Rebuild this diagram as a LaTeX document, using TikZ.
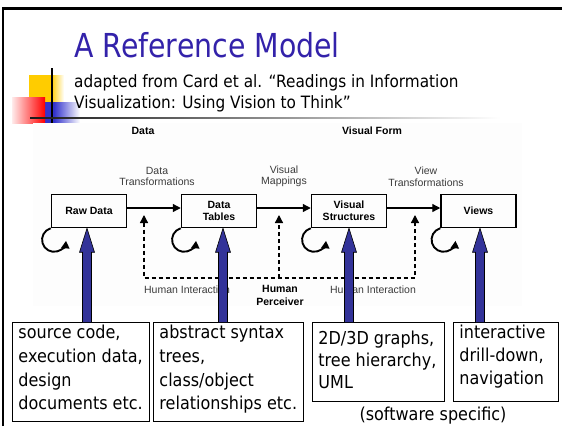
\documentclass[tikz,border=0pt]{standalone}
\usepackage{fontspec}
\setmainfont{Liberation Sans}
\newfontfamily\tahoma{DejaVu Sans}[FakeStretch=0.9]
\newfontfamily\tahomatitle{DejaVu Sans}[FakeStretch=0.86]
\usetikzlibrary{arrows.meta,calc}
\definecolor{titlec}{RGB}{51,34,170}
\definecolor{navyc}{RGB}{51,51,153}
\definecolor{yellowc}{RGB}{255,204,0}
\definecolor{redc}{RGB}{255,0,0}
\definecolor{bluec}{RGB}{51,51,204}
\definecolor{labelc}{RGB}{60,60,60}
\definecolor{panelc}{RGB}{253,253,253}
\newcommand\uparr[2]{\draw[bluearr] let \p1=(#1), \p2=(#2) in
  (\x1-4.5pt,\y1) -- (\x1-4.5pt,\y2-24pt) -- (\x1-7.5pt,\y2-24pt) -- (\x1,\y2)
  -- (\x1+7.5pt,\y2-24pt) -- (\x1+4.5pt,\y2-24pt) -- (\x1+4.5pt,\y1);}
\newcommand\tbtext[5]{\parbox[t][#1][t]{#2}{\leftskip=6pt\baselineskip=#4\rule{0pt}{#3}#5}}
\begin{document}
\begin{tikzpicture}[x=1pt,y=-1pt,
  stage/.style={draw, line width=1.5pt, minimum width=75pt, minimum height=33pt,
    inner sep=1pt, align=center, font=\fontsize{10.5}{12.3}\selectfont\bfseries},
  flow/.style={line width=1.3pt, -{Triangle[length=8pt,width=8pt]}},
  dashline/.style={line width=1.3pt, dash pattern=on 4pt off 3pt},
  loopar/.style={line width=1.9pt, -{Triangle[length=7.5pt,width=8pt]}},
  lbl/.style={inner sep=0pt, align=center, text=labelc, font=\fontsize{10.5}{11.5}\selectfont},
  head/.style={inner sep=0pt, align=center, font=\fontsize{10.5}{13}\selectfont\bfseries},
  tbox/.style={draw, line width=0.9pt, anchor=north west, inner sep=0pt,
    font=\tahoma\fontsize{17.8}{23.5}\selectfont},
  bluearr/.style={fill=navyc, draw=black, line width=0.6pt, line join=miter}
]
\useasboundingbox (0,0) rectangle (562,426);
% frame
\draw[line width=2.4pt] (3,426) -- (3,8.5) -- (562,8.5);
% logo decoration
\fill[yellowc] (29,75) rectangle (51,112);
\shade[left color=yellowc, right color=white] (51,75) rectangle (64,112);
\fill[bluec] (37,102) rectangle (54,124);
\shade[left color=bluec, right color=white] (54,102) rectangle (80,124);
\shade[left color=red!8, right color=redc] (12,97) rectangle (45,123);
\draw[line width=1.5pt] (52,68) -- (52,125);
\shade[left color=black!90, middle color=black!45, right color=white] (30,117.2) rectangle (500,118.8);
% title
\node[anchor=base west, inner sep=0pt, font=\tahomatitle\fontsize{33}{40}\selectfont, text=titlec] (title) at (74,57) {A Reference Model};
\node[anchor=base west, inner sep=0pt, font=\tahoma\fontsize{17}{20}\selectfont] (sub1) at (74,87.5) {adapted from Card et al. “Readings in Information};
\node[anchor=base west, inner sep=0pt, font=\tahoma\fontsize{17}{20}\selectfont] (sub2) at (74,108) {Visualization: Using Vision to Think”};
% diagram panel
\fill[panelc] (33,123) rectangle (522,306);
\node[head] (hdata) at (143,131) {Data};
\node[head] (hvis) at (372,131) {Visual Form};
% stages
\node[stage] (raw) at (89,211) {Raw Data};
\node[stage] (tables) at (219,211) {Data\\Tables};
\node[stage] (visual) at (349,211) {Visual\\Structures};
\node[stage] (views) at (478.5,211) {Views};
\draw[flow] ([yshift=3pt]raw.east) -- ([yshift=3pt]tables.west);
\draw[flow] ([yshift=3pt]tables.east) -- ([yshift=3pt]visual.west);
\draw[flow] ([yshift=3pt]visual.east) -- ([yshift=3pt]views.west);
\node[lbl] (l1) at (157,176.5) {Data\\Transformations};
\node[lbl] (l2) at (284,176.5) {Visual\\Mappings};
\node[lbl] (l3) at (426,176.5) {View\\Transformations};
% self loops
\foreach \b in {raw,tables,visual,views}
  \draw[loopar] ([xshift=0pt]\b.south west) arc[start angle=254, end angle=5, radius=12];
% human interaction
\coordinate (h1) at (144,278);
\coordinate (h2) at (279,278);
\coordinate (h3) at (415,278);
\coordinate (u1) at (144,215);
\coordinate (u2) at (279,215);
\coordinate (u3) at (415,215);
\draw[dashline, {Triangle[length=8pt,width=8pt]}-{Triangle[length=8pt,width=8pt]}] (u1) -- (h1) -- (h3) -- (u3);
\draw[dashline, -{Triangle[length=8pt,width=8pt]}] (h2) -- (u2);
\node[lbl] (hi1) at (187,289.5) {Human Interaction};
\node[lbl] (hi2) at (373,289.5) {Human Interaction};
\node[head, font=\fontsize{10.5}{13}\selectfont\bfseries] (perc) at (280,295.5) {Human\\Perceiver};
% text boxes
\node[tbox] (tb1) at (12,322) {\tbtext{99pt}{137pt}{16pt}{23.8pt}{source code,\\execution data,\\design\\documents etc.}};
\node[tbox] (tb2) at (153,322) {\tbtext{99pt}{150pt}{16pt}{23.8pt}{abstract syntax\\trees,\\class/object\\relationships etc.}};
\node[tbox] (tb3) at (312,322) {\tbtext{79pt}{132pt}{22.5pt}{22pt}{2D/3D graphs,\\tree hierarchy,\\UML}};
\node[tbox] (tb4) at (453,322) {\tbtext{79pt}{105pt}{16pt}{23pt}{interactive\\drill-down,\\navigation}};
\node[anchor=base, inner sep=0pt, font=\tahoma\fontsize{17.8}{22}\selectfont] (sw) at (433,420) {(software specific)};
% blue arrows
\coordinate (c1) at (87,0);
\coordinate (c2) at (223,0);
\coordinate (c3) at (349,0);
\coordinate (c4) at (480,0);
\uparr{c1 |- tb1.north}{c1 |- raw.south}
\uparr{c2 |- tb2.north}{c2 |- tables.south}
\uparr{c3 |- tb3.north}{c3 |- visual.south}
\uparr{c4 |- tb4.north}{c4 |- views.south}
\end{tikzpicture}
\end{document}
